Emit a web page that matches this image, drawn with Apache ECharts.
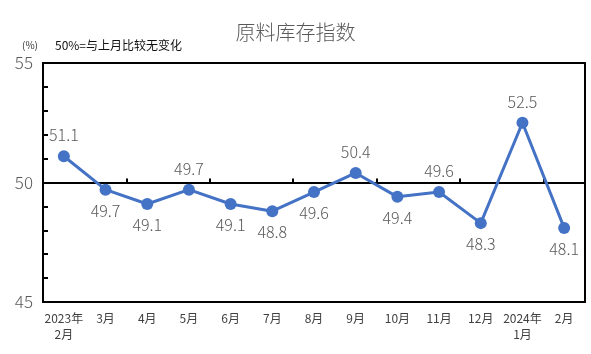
<!DOCTYPE html>
<html>
<head>
<meta charset="utf-8">
<script src="https://cdn.jsdelivr.net/npm/echarts@6/dist/echarts.min.js"></script>
<style>
  html, body { margin: 0; padding: 0; background: #fff; }
  #chart1 { width: 591px; height: 354px; }
</style>
</head>
<body>
<div id="chart1"></div>
<script>
var months = ['2023年\n2月', '3月', '4月', '5月', '6月', '7月', '8月', '9月', '10月', '11月', '12月', '2024年\n1月', '2月']
var stockIndex = [51.1, 49.7, 49.1, 49.7, 49.1, 48.8, 49.6, 50.4, 49.4, 49.6, 48.3, 52.5, 48.1]
var labelPos = ['top', 'bottom', 'bottom', 'top', 'bottom', 'bottom', 'bottom', 'top', 'bottom', 'top', 'bottom', 'top', 'bottom']
var yTicks = [45, 50, 55]

var FONT = '"Noto Sans CJK SC", "Noto Sans", sans-serif'

const mychart1 = echarts.init(document.getElementById('chart1'))
mychart1.setOption(getOption1())

function getOption1() {
    var seriesData = stockIndex.map(function (v, i) {
        return { value: v, label: { position: labelPos[i] } }
    })
    var option = {
        backgroundColor: '#ffffff',
        animation: false,
        title: {
            text: '原料库存指数',
            left: 'center',
            top: 17,
            textStyle: { fontFamily: FONT, fontSize: 20, fontWeight: 300, color: '#595959' }
        },
        graphic: [
            { type: 'text', left: 22, top: 40, style: { text: '(%)', fontSize: 10, fill: '#333', fontFamily: FONT } },
            { type: 'text', left: 55, top: 39, style: { text: '50%=与上月比较无变化', fontSize: 12, fill: '#111', fontFamily: FONT } }
        ],
        grid: {
            left: 43, right: 6, top: 63, bottom: 52,
            show: true, borderColor: '#000', borderWidth: 2, backgroundColor: 'transparent'
        },
        xAxis: [{
            type: 'category',
            data: months,
            position: 'bottom',
            boundaryGap: true,
            axisLine: { show: true, lineStyle: { color: '#000', width: 2 } },
            axisTick: { show: false },
            axisLabel: { fontFamily: FONT, fontSize: 12, color: '#404040', lineHeight: 16, margin: 8, interval: 0 }
        }, {
            // 50 基准线
            type: 'category',
            data: months,
            position: 'bottom',
            offset: -119.5,
            boundaryGap: true,
            axisLine: { show: true, lineStyle: { color: '#000', width: 2 } },
            axisTick: { show: true, inside: true, length: 4, lineStyle: { color: '#000', width: 2 } },
            axisLabel: { show: false }
        }],
        yAxis: {
            type: 'value',
            min: 45,
            max: 55,
            interval: 5,
            axisLine: { show: true, lineStyle: { color: '#000', width: 2 } },
            axisTick: { show: true, inside: true, length: 5, lineStyle: { color: '#000', width: 2 } },
            minorTick: { show: true, splitNumber: 5, length: 5, lineStyle: { color: '#000', width: 2 } },
            splitLine: { show: false },
            axisLabel: {
                fontFamily: FONT, fontSize: 17, fontWeight: 300, color: '#595959', margin: 10,
                formatter: function (v) { return yTicks.indexOf(v) >= 0 ? String(v) : '' }
            }
        },
        series: [{
            type: 'line',
            data: seriesData,
            xAxisIndex: 0,
            symbol: 'circle',
            symbolSize: 12,
            lineStyle: { color: '#4472C4', width: 3 },
            itemStyle: { color: '#4472C4' },
            label: {
                show: true,
                distance: 7,
                fontFamily: FONT,
                fontSize: 16,
                fontWeight: 300,
                color: '#595959',
                formatter: function (p) { return p.value.toFixed(1) }
            },
            z: 5
        }]
    }
    return option
}
</script>
</body>
</html>
